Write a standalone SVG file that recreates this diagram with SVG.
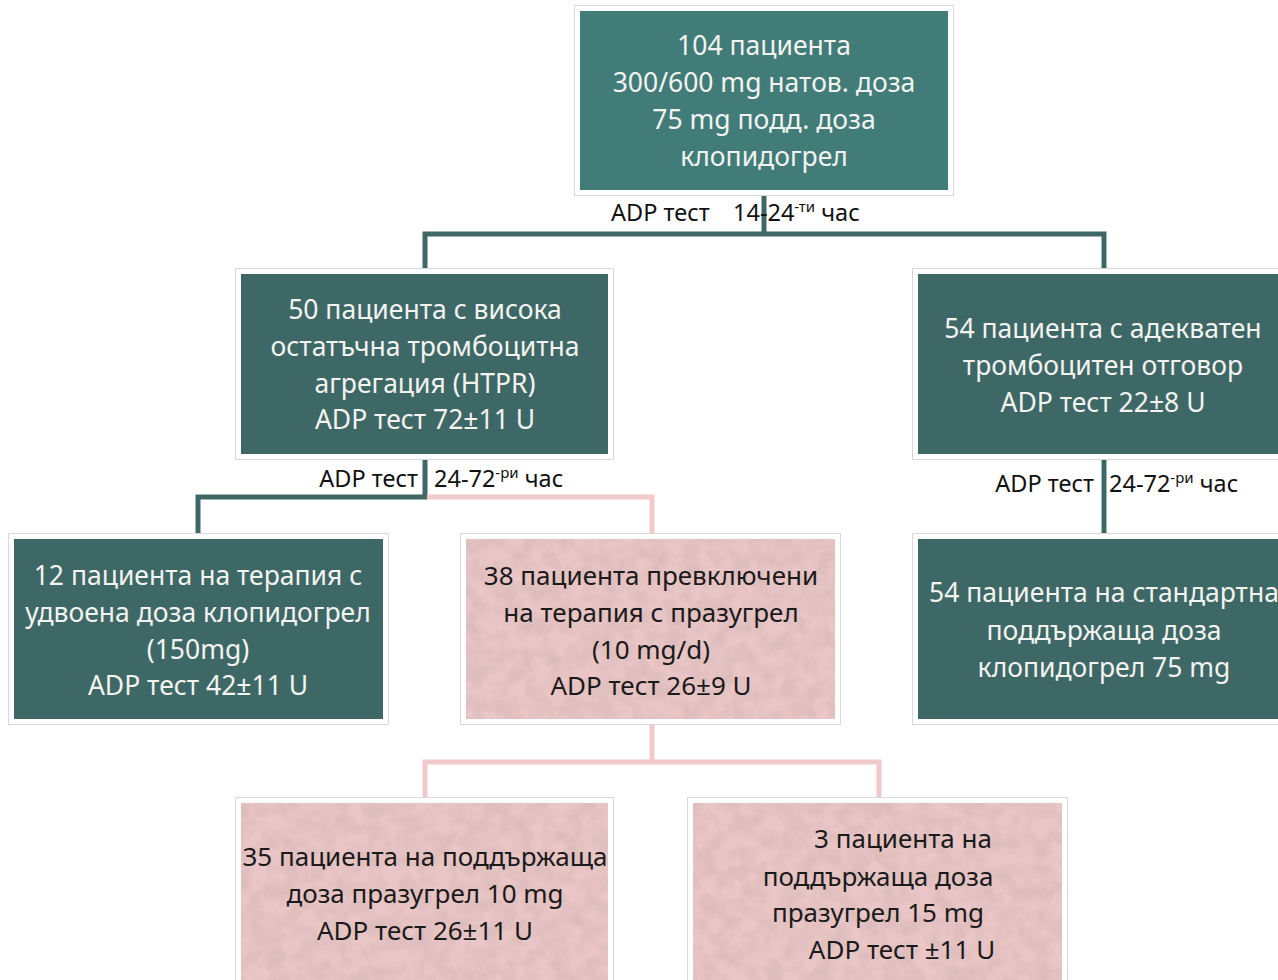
<svg xmlns="http://www.w3.org/2000/svg" width="1278" height="980" viewBox="0 0 1278 980">
<style>
.frame{fill:#ffffff;stroke:#d6d9d9;stroke-width:1}
.teal{fill:#3e6866}
.teal2{fill:#417c79}
.pink{fill:#eac6c6}
.tw{font-family:"Noto Sans","DejaVu Sans",sans-serif;font-size:26.500px;fill:#f3f3f0;text-anchor:middle}
.tb{font-family:"Noto Sans","DejaVu Sans",sans-serif;font-size:26px;fill:#1a1a1a;text-anchor:middle}
.lbl{font-family:"Noto Sans","DejaVu Sans",sans-serif;font-size:23.500px;fill:#111}
.ct{fill:none;stroke:#3e6866;stroke-width:5}
.cp{fill:none;stroke:#f2c9c9;stroke-width:5}
.sup{font-size:15px}
</style>
<defs>
<filter id="paper" x="0" y="0" width="100%" height="100%">
<feTurbulence type="fractalNoise" baseFrequency="0.06" numOctaves="4" seed="3" result="n"/>
<feColorMatrix in="n" type="matrix" values="0 0 0 0 0.55  0 0 0 0 0.4  0 0 0 0 0.4  0 0 0 0.8 -0.25" result="m"/>
<feComposite in="m" in2="SourceGraphic" operator="in" result="c"/>
<feMerge><feMergeNode in="SourceGraphic"/><feMergeNode in="c"/></feMerge>
</filter>
</defs>

<g id="connectors">
<path class="ct" d="M764 195 V234 M425 269 V234 H1104 V269"/>
<path class="ct" d="M425 459 V497 H198 V534"/>
<path class="cp" d="M427 497 H652 V534"/>
<path class="ct" d="M1104 459 V534"/>
<path class="cp" d="M652 724 V762 M425 798 V762 H879 V798"/>
</g>

<g id="labels">
<text class="lbl" x="611" y="221">ADP тест</text>
<text class="lbl" x="733" y="221">14-24<tspan class="sup" dy="-9">-ти</tspan><tspan dy="9"> час</tspan></text>
<text class="lbl" x="418" y="487" text-anchor="end">ADP тест</text>
<text class="lbl" x="434" y="487">24-72<tspan class="sup" dy="-9">-ри</tspan><tspan dy="9"> час</tspan></text>
<text class="lbl" x="1094" y="492" text-anchor="end">ADP тест</text>
<text class="lbl" x="1109" y="492">24-72<tspan class="sup" dy="-9">-ри</tspan><tspan dy="9"> час</tspan></text>
</g>

<g id="n-top">
<rect class="frame" x="574.500" y="5.500" width="379" height="190"/>
<rect class="teal2" x="580" y="11" width="368" height="179"/>
<text class="tw" x="764" y="55">104 пациента</text>
<text class="tw" x="764" y="92">300/600 mg натов. доза</text>
<text class="tw" x="764" y="129">75 mg подд. доза</text>
<text class="tw" x="764" y="166">клопидогрел</text>
</g>

<g id="n-htpr">
<rect class="frame" x="235.500" y="268.500" width="378" height="191"/>
<rect class="teal" x="241" y="274" width="367" height="180"/>
<text class="tw" x="425" y="319">50 пациента с висока</text>
<text class="tw" x="425" y="356">остатъчна тромбоцитна</text>
<text class="tw" x="425" y="393">агрегация (HTPR)</text>
<text class="tw" x="425" y="429">ADP тест 72±11 U</text>
</g>

<g id="n-adequate">
<rect class="frame" x="912.500" y="268.500" width="380" height="191"/>
<rect class="teal" x="918" y="274" width="370" height="180"/>
<text class="tw" x="1103" y="338">54 пациента с адекватен</text>
<text class="tw" x="1103" y="375">тромбоцитен отговор</text>
<text class="tw" x="1103" y="412">ADP тест 22±8 U</text>
</g>

<g id="n-double">
<rect class="frame" x="8.500" y="533.500" width="380" height="191"/>
<rect class="teal" x="14" y="539" width="369" height="180"/>
<text class="tw" x="198" y="585">12 пациента на терапия с</text>
<text class="tw" x="198" y="622">удвоена доза клопидогрел</text>
<text class="tw" x="198" y="659">(150mg)</text>
<text class="tw" x="198" y="695">ADP тест 42±11 U</text>
</g>

<g id="n-prasugrel">
<rect class="frame" x="460.500" y="533.500" width="380" height="191"/>
<rect class="pink" filter="url(#paper)" x="466" y="539" width="369" height="180"/>
<text class="tb" x="651" y="585">38 пациента превключени</text>
<text class="tb" x="651" y="622">на терапия с празугрел</text>
<text class="tb" x="651" y="659">(10 mg/d)</text>
<text class="tb" x="651" y="695">ADP тест 26±9 U</text>
</g>

<g id="n-standard">
<rect class="frame" x="912.500" y="533.500" width="380" height="191"/>
<rect class="teal" x="918" y="539" width="370" height="180"/>
<text class="tw" x="1104" y="602">54 пациента на стандартна</text>
<text class="tw" x="1104" y="640">поддържаща доза</text>
<text class="tw" x="1104" y="677">клопидогрел 75 mg</text>
</g>

<g id="n-pras10">
<rect class="frame" x="235.500" y="797.500" width="378" height="190"/>
<rect class="pink" filter="url(#paper)" x="241" y="803" width="367" height="180"/>
<text class="tb" x="425" y="866">35 пациента на поддържаща</text>
<text class="tb" x="425" y="903">доза празугрел 10 mg</text>
<text class="tb" x="425" y="940">ADP тест 26±11 U</text>
</g>

<g id="n-pras15">
<rect class="frame" x="687.500" y="797.500" width="380" height="190"/>
<rect class="pink" filter="url(#paper)" x="693" y="803" width="369" height="180"/>
<text class="tb" x="903" y="848">3 пациента на</text>
<text class="tb" x="878" y="886">поддържаща доза</text>
<text class="tb" x="878" y="922">празугрел 15 mg</text>
<text class="tb" x="902" y="959">ADP тест ±11 U</text>
</g>
</svg>
